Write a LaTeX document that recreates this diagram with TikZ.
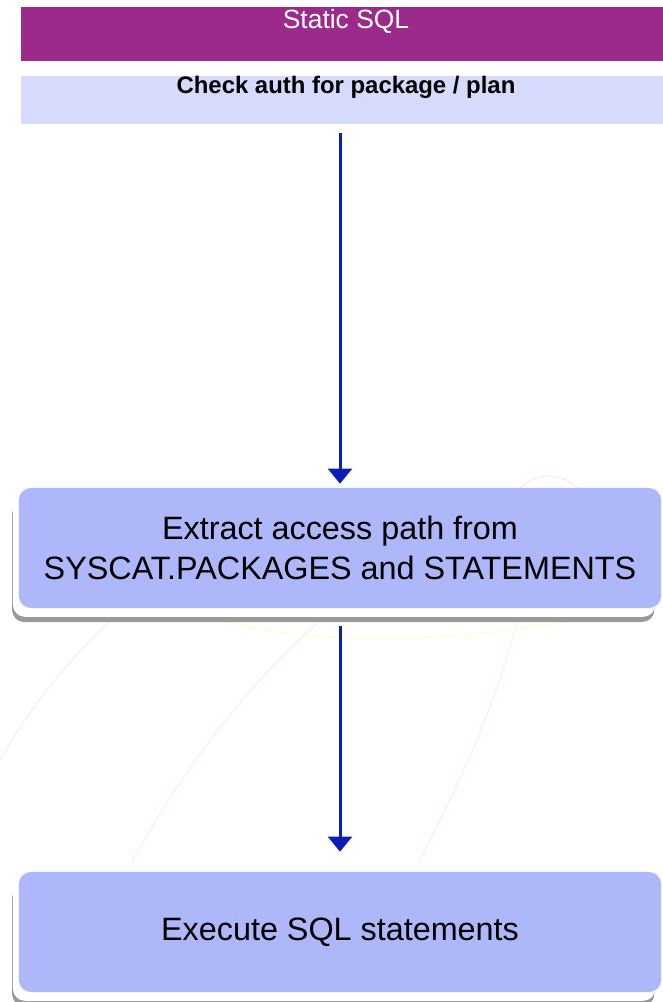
\documentclass[tikz,border=0pt]{standalone}
\usepackage{fontspec}
\setmainfont{Liberation Sans}
\usepackage{tikz}
\usetikzlibrary{arrows.meta, positioning, shadows}

\definecolor{sqlpurple}{HTML}{9C2A8A}
\definecolor{authblue}{HTML}{D6DAFC}
\definecolor{stepblue}{HTML}{AEB7FA}
\definecolor{arrowblue}{HTML}{0A1EB4}

\begin{document}
\begin{tikzpicture}[
  x=0.025cm, y=-0.025cm,
  every node/.style={rectangle, align=center, inner sep=0pt},
  header/.style={fill=sqlpurple, minimum width=16.25cm, minimum height=1.35cm},
  authbar/.style={fill=authblue, minimum width=16.25cm, minimum height=1.2cm},
  stepbox/.style={rounded corners=0.3cm, fill=stepblue, minimum width=16.05cm, minimum height=3cm,
    font=\fontsize{23}{28}\selectfont,
    drop shadow={shadow xshift=-0.17cm, shadow yshift=-0.35cm, fill=black!40, opacity=1},
    drop shadow={shadow xshift=-0.15cm, shadow yshift=-0.22cm, fill=white, opacity=1}},
  arrow/.style={draw=arrowblue, line width=0.075cm, -{Triangle[width=0.6cm, length=0.38cm]}},
  watermark/.style={line width=0.04cm, opacity=0.6}
]
\useasboundingbox (0,0) rectangle (663,1002);

% Background
\draw[watermark, draw=blue!8] (0,760) .. controls (40,690) and (80,650) .. (130,600);
\draw[watermark, draw=magenta!10] (131,863) .. controls (200,740) and (270,660) .. (345,600);
\draw[watermark, draw=magenta!10] (419,863) .. controls (460,780) and (500,700) .. (522,600);
\draw[watermark, draw=yellow!20] (220,620) .. controls (320,650) and (500,640) .. (610,612);
\draw[watermark, draw=magenta!12] (510,500) .. controls (530,470) and (560,470) .. (580,490);

% Nodes
\node[header] (static) at (346,34) {};
\node[text=white, font=\fontsize{18.8}{22}\selectfont, anchor=north] (title) at ([yshift=-0.06cm]static.north) {Static SQL};
\node[authbar] (auth) at (346,100) {};
\node[font=\fontsize{17}{20}\selectfont\bfseries, anchor=north] (authtext) at ([yshift=-0.01cm]auth.north) {Check auth for package / plan};

\node[stepbox] (extract) at (340,548) {Extract access path from \\ SYSCAT.PACKAGES and STATEMENTS};
\node[stepbox] (execute) at (340,932) {Execute SQL statements};

% Arrows
\draw[arrow, shorten <=0.225cm, shorten >=0.1cm] (auth.south -| extract) -- (extract);
\draw[arrow, shorten <=0.45cm, shorten >=0.5cm] (extract) -- (execute);

\end{tikzpicture}
\end{document}
